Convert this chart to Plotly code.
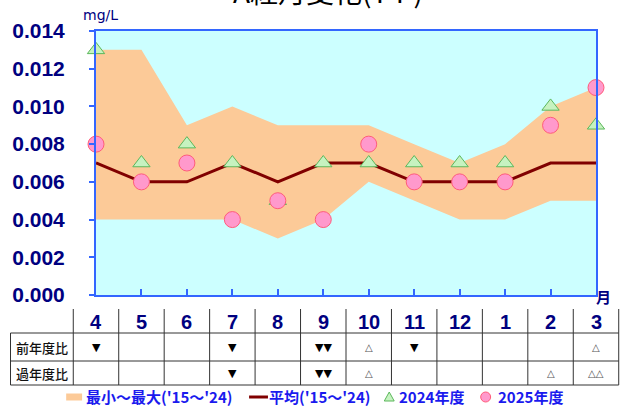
import plotly.graph_objects as go

months = ["4", "5", "6", "7", "8", "9", "10", "11", "12", "1", "2", "3"]
vmax = [0.013, 0.013, 0.009, 0.010, 0.009, 0.009, 0.009, 0.008, 0.007, 0.008, 0.010, 0.011]
vmin = [0.004, 0.004, 0.004, 0.004, 0.003, 0.004, 0.006, 0.005, 0.004, 0.004, 0.005, 0.005]
avg = [0.007, 0.006, 0.006, 0.007, 0.006, 0.007, 0.007, 0.006, 0.006, 0.006, 0.007, 0.007]
fy2024 = [0.013, 0.007, 0.008, 0.007, 0.005, 0.007, 0.007, 0.007, 0.007, 0.007, 0.010, 0.009]
fy2025 = [0.008, 0.006, 0.007, 0.004, 0.005, 0.004, 0.008, 0.006, 0.006, 0.006, 0.009, 0.011]
prev_year = ["▼", "", "", "▼", "", "▼▼", "△", "▼", "", "", "", "△"]
past_year = ["", "", "", "▼", "", "▼▼", "△", "", "", "", "△", "△△"]
row_labels = ["前年度比", "過年度比"]
legend_labels = ["最小～最大('15～'24)", "平均('15～'24)", "2024年度", "2025年度"]
y_ticks = [0.000, 0.002, 0.004, 0.006, 0.008, 0.010, 0.012, 0.014]

W, H = 625, 410
L, R, T, B = 93, 596, 31, 295
NAVY = "#000080"
BLUE = "#3366ff"
CJK = "Noto Sans CJK JP"

xi = list(range(len(months)))
nmax = len(months) - 1


def px(p):
    return (p - L) / (R - L)


def py(p):
    return (B - p) / (B - T)


def xcol(i):
    return i / nmax


fig = go.Figure()
fig.add_trace(go.Scatter(x=xi, y=vmin, mode="lines", line=dict(width=0, color="#fbc896"),
                         showlegend=False, hoverinfo="skip"))
fig.add_trace(go.Scatter(x=xi, y=vmax, mode="lines", line=dict(width=0, color="#fbc896"),
                         fill="tonexty", fillcolor="#fcca98", showlegend=False))
fig.add_trace(go.Scatter(x=xi, y=avg, mode="lines", line=dict(width=3, color="#800000"),
                         showlegend=False))
fig.add_trace(go.Scatter(x=xi, y=fy2024, mode="markers", cliponaxis=False,
                         marker=dict(symbol="triangle-up", size=15, color="#c6f2c0",
                                     line=dict(color="#5cb85c", width=1)),
                         showlegend=False))
fig.add_trace(go.Scatter(x=xi, y=fy2025, mode="markers", cliponaxis=False,
                         marker=dict(symbol="circle", size=16, color="#ff99cc",
                                     line=dict(color="#ff5c7a", width=1)),
                         showlegend=False))

shapes = []
annotations = []

# table lines
line_col = "#333333"
for i in range(len(months) + 1):
    xv = xcol(i - 0.5)
    shapes.append(dict(type="line", xref="paper", yref="paper", x0=xv, x1=xv,
                       y0=py(309), y1=py(385), line=dict(color=line_col, width=1)))
shapes.append(dict(type="line", xref="paper", yref="paper", x0=px(7), x1=px(7),
                   y0=py(333), y1=py(385), line=dict(color=line_col, width=1)))
for yy in [333, 361, 385]:
    shapes.append(dict(type="line", xref="paper", yref="paper", x0=px(7), x1=xcol(nmax + 0.5),
                       y0=py(yy), y1=py(yy), line=dict(color=line_col, width=1)))

# month header labels
for i, m in enumerate(months):
    annotations.append(dict(x=xcol(i), y=py(322), xref="paper", yref="paper", text=m,
                            showarrow=False, xanchor="center", yanchor="middle",
                            font=dict(family="Liberation Sans", size=20, color=NAVY, weight="bold")))

# row labels & marks
for r, (lab, row) in enumerate(zip(row_labels, [prev_year, past_year])):
    yc = [347, 373][r]
    annotations.append(dict(x=px(39), y=py(yc), xref="paper", yref="paper", text=lab,
                            showarrow=False, xanchor="center", yanchor="middle",
                            font=dict(family=CJK, size=13, color="#111111", weight=500)))
    for i, s in enumerate(row):
        if not s:
            continue
        if "▼" in s:
            annotations.append(dict(x=xcol(i), y=py(yc), xref="paper", yref="paper", text=s,
                                    showarrow=False, xanchor="center", yanchor="middle",
                                    font=dict(family="DejaVu Sans", size=11, color="#000000")))
        else:
            annotations.append(dict(x=xcol(i), y=py(yc), xref="paper", yref="paper", text=s,
                                    showarrow=False, xanchor="center", yanchor="middle",
                                    font=dict(family="DejaVu Sans", size=10, color="#555555")))

# unit labels and title
annotations.append(dict(x=px(98), y=py(15), xref="paper", yref="paper", text="mg/L",
                        showarrow=False, xanchor="center", yanchor="middle",
                        font=dict(family="DejaVu Sans", size=14, color=NAVY)))
annotations.append(dict(x=px(604), y=py(296), xref="paper", yref="paper", text="月",
                        showarrow=False, xanchor="center", yanchor="middle",
                        font=dict(family=CJK, size=15, color=NAVY, weight="bold")))
annotations.append(dict(x=px(326), y=py(-9), xref="paper", yref="paper", text="A経月変化(T-P)",
                        showarrow=False, xanchor="center", yanchor="middle",
                        font=dict(family=CJK, size=28, color="#000000")))

# manual legend
LEGY = 397
LBLUE = "#1a1aee"
lfont = dict(family=CJK, size=15, color=LBLUE, weight="bold")
shapes.append(dict(type="rect", xref="paper", yref="paper", x0=px(63), x1=px(79),
                   y0=py(393.5), y1=py(400.5), fillcolor="#fcca98", line=dict(width=0)))
annotations.append(dict(x=px(81), y=py(LEGY), xref="paper", yref="paper", text=legend_labels[0],
                        showarrow=False, xanchor="left", yanchor="middle", font=lfont))
shapes.append(dict(type="line", xref="paper", yref="paper", x0=px(247), x1=px(266),
                   y0=py(LEGY), y1=py(LEGY), line=dict(color="#800000", width=3)))
annotations.append(dict(x=px(265), y=py(LEGY), xref="paper", yref="paper", text=legend_labels[1],
                        showarrow=False, xanchor="left", yanchor="middle", font=lfont))
tri = "M {},{} L {},{} L {},{} Z".format(px(383), py(401), px(393), py(401), px(388), py(392))
shapes.append(dict(type="path", xref="paper", yref="paper", path=tri,
                   fillcolor="#c6f2c0", line=dict(color="#5cb85c", width=1)))
annotations.append(dict(x=px(396), y=py(LEGY), xref="paper", yref="paper", text=legend_labels[2],
                        showarrow=False, xanchor="left", yanchor="middle", font=lfont))
shapes.append(dict(type="circle", xref="paper", yref="paper", x0=px(480), x1=px(490),
                   y0=py(402), y1=py(392), fillcolor="#ff99cc", line=dict(color="#ff5c7a", width=1)))
annotations.append(dict(x=px(495), y=py(LEGY), xref="paper", yref="paper", text=legend_labels[3],
                        showarrow=False, xanchor="left", yanchor="middle", font=lfont))

fig.update_layout(
    width=W, height=H,
    margin=dict(l=L, r=W - R, t=T, b=H - B, pad=0),
    paper_bgcolor="#ffffff",
    plot_bgcolor="#ccffff",
    showlegend=False,
    shapes=shapes,
    annotations=annotations,
    xaxis=dict(range=[0, nmax], tickvals=xi, showticklabels=False, ticks="inside",
               ticklen=6, tickwidth=2, tickcolor=BLUE, showgrid=False, zeroline=False,
               showline=True, linecolor=BLUE, linewidth=2, mirror=True, fixedrange=True),
    yaxis=dict(range=[0, 0.014], tickvals=y_ticks, tickformat=".3f", ticks="outside",
               ticklen=5, tickwidth=2, tickcolor=BLUE, showgrid=False, zeroline=False,
               showline=True, linecolor=BLUE, linewidth=2, mirror=True,
               ticklabelstandoff=20,
               tickfont=dict(family="Liberation Sans", size=21, color=NAVY, weight="bold")),
)

fig.write_html("out.html", config={"displayModeBar": False},
               post_script="document.body.style.margin='0';document.body.style.padding='0';")
